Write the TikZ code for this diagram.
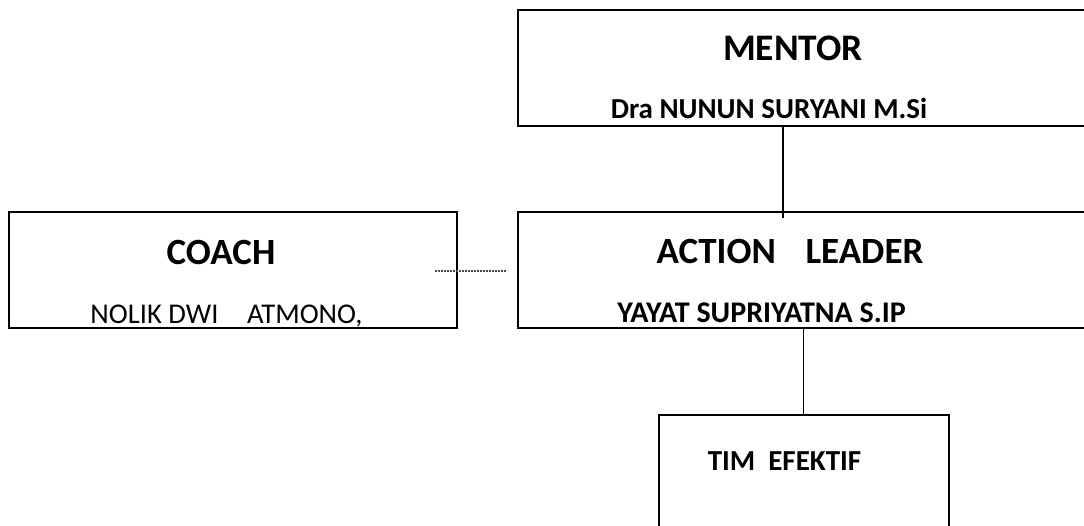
\documentclass[tikz,border=0pt]{standalone}
\usepackage{fontspec}
\setmainfont{Carlito}
\begin{document}
\begin{tikzpicture}[x=1pt,y=-1pt,
  box/.style={draw=black,line width=1.6pt,rectangle,inner sep=0pt,anchor=north west},
  head/.style={font=\fontsize{37}{40}\selectfont\bfseries,inner sep=0pt,anchor=base},
  sub/.style={font=\fontsize{29}{32}\selectfont\bfseries,inner sep=0pt,anchor=base},
  subreg/.style={font=\fontsize{28.6}{31}\selectfont,inner sep=0pt,anchor=base},
  link/.style={draw=black,line width=1.2pt},
  dotlink/.style={draw=black!70,line width=1.2pt,dash pattern=on 1.5pt off 1.5pt}]
\useasboundingbox (0,0) rectangle (1084,526);
% boxes
\node[box,minimum width=600pt,minimum height=116pt] (mentor) at (517,9) {};
\node[box,minimum width=448pt,minimum height=116pt] (coach) at (8,211) {};
\node[box,minimum width=600pt,minimum height=116pt] (action) at (517,211) {};
\node[box,minimum width=290pt,minimum height=140pt] (tim) at (658,414) {};
% texts
\node[head,font=\fontsize{37.5}{40}\selectfont\bfseries] (tmentor) at (793,61) {MENTOR};
\node[sub] (tnunun) at (769,119) {Dra NUNUN SURYANI M.Si};
\node[head] (tcoach) at (221,265) {COACH};
\node[subreg] (tnolik) at (226.5,324) {NOLIK DWI\hspace{1.0em}ATMONO,};
\node[head] (taction) at (790,264) {ACTION\hspace{0.8em}LEADER};
\node[sub,font=\fontsize{30}{33}\selectfont\bfseries] (tyayat) at (761.5,323) {YAYAT SUPRIYATNA S.IP};
\node[sub] (ttim) at (784.5,470) {TIM\hspace{0.45em}EFEKTIF};
% connectors
\coordinate (mx) at (783,218);
\draw[link] (mentor.south -| mx) -- (mx);
\draw[link] (tim.north |- action.south) -- (tim.north);
\coordinate (d1) at (435,271);
\coordinate (d2) at (507,271);
\draw[dotlink] (d1) -- (d2);
\end{tikzpicture}
\end{document}
